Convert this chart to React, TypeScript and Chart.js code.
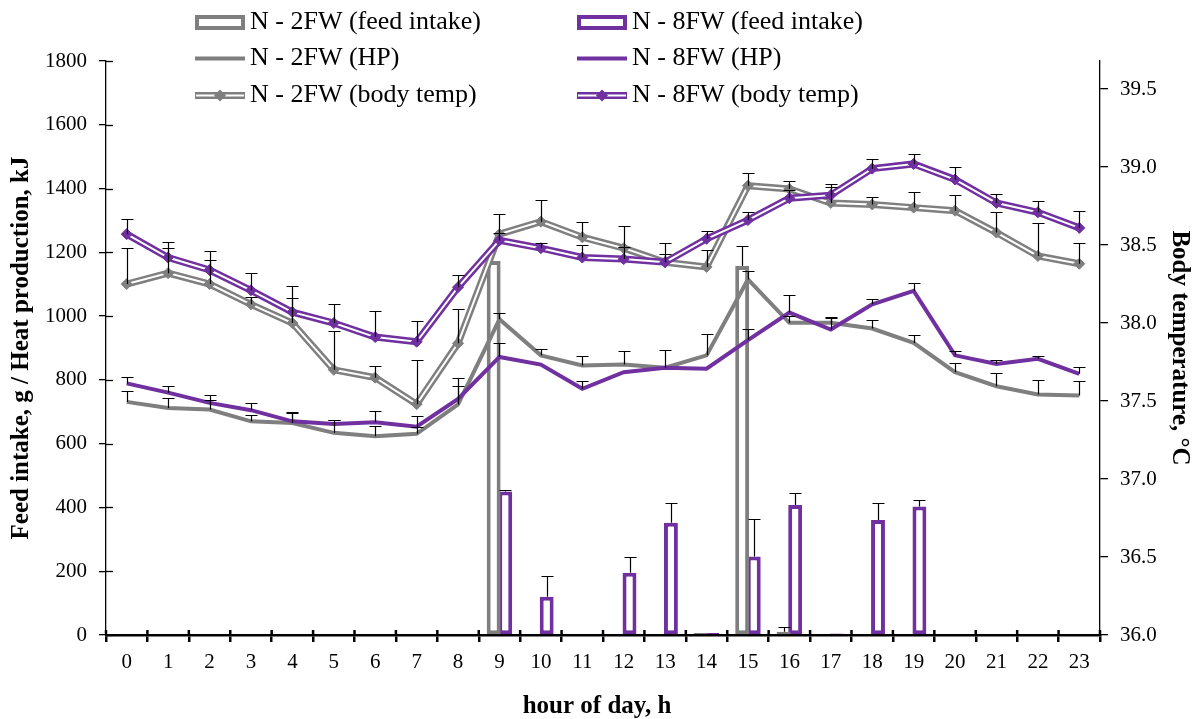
import React, { useEffect, useRef } from 'react';
import { Chart, registerables } from 'chart.js';

Chart.register(...registerables);

const GRAY = '#7f7f7f';
const PURPLE = '#7030a0';
const FONT = "'Times New Roman', 'Liberation Serif', serif";

const hours = ['0','1','2','3','4','5','6','7','8','9','10','11','12','13','14','15','16','17','18','19','20','21','22','23'];

const feed2FW = [0,0,0,0,0,0,0,0,0,1173,0,0,0,0,6,1157,10,0,0,0,0,0,0,0];
const feed2FWErr = [0,0,0,0,0,0,0,0,0,0,0,0,0,0,0,63,15,0,0,0,0,0,0,0];
const feed8FW = [0,0,0,0,0,0,0,0,0,450,120,0,195,352,6,246,408,5,361,403,0,0,0,0];
const feed8FWErr = [0,0,0,0,0,0,0,0,0,5,65,0,50,62,0,118,38,0,53,20,0,0,0,0];

const hp2FW = [731,712,707,670,665,634,623,631,723,990,877,845,848,838,877,1115,979,979,961,916,824,780,754,751];
const hp2FWErr = [33,30,30,20,30,40,31,20,57,20,21,29,42,57,66,26,20,15,28,26,29,42,47,45];
const hp8FW = [789,760,728,705,670,662,667,653,740,872,848,772,824,838,835,925,1011,958,1037,1079,877,850,866,819];
const hp8FWErr = [21,20,26,23,30,11,35,33,66,44,0,24,0,0,0,35,55,40,16,24,14,13,10,21];

const bt2FW = [38.25,38.32,38.25,38.12,38.00,37.70,37.65,37.48,37.87,38.57,38.65,38.55,38.48,38.39,38.36,38.88,38.86,38.77,38.76,38.74,38.72,38.58,38.43,38.38];
const bt2FWErr = [0.23,0.16,0.155,0.05,0.16,0.25,0.075,0.28,0.22,0.13,0.14,0.1,0.14,0.12,0.11,0.08,0.05,0.12,0.05,0.1,0.1,0.13,0.21,0.13];
const bt8FW = [38.57,38.42,38.34,38.21,38.07,38.00,37.91,37.88,38.23,38.53,38.48,38.42,38.41,38.39,38.54,38.66,38.80,38.82,38.99,39.02,38.92,38.77,38.71,38.61];
const bt8FWErr = [0.1,0.1,0.125,0.11,0.165,0.12,0.17,0.13,0.08,0.05,0.03,0.08,0.08,0.05,0.05,0.05,0.05,0.05,0.06,0.065,0.08,0.06,0.075,0.11];

const leftTicks = { min: 0, max: 1800, step: 200 };
const rightTicks = { min: 36, max: 39.68, step: 0.5 };

const legendLabels = [
  'N - 2FW (feed intake)', 'N - 8FW (feed intake)',
  'N - 2FW (HP)', 'N - 8FW (HP)',
  'N - 2FW (body temp)', 'N - 8FW (body temp)',
];
const legendKinds = ['bar', 'bar', 'line', 'line', 'temp', 'temp'];
const legendColors = [GRAY, PURPLE, GRAY, PURPLE, GRAY, PURPLE];

const leftTitle = 'Feed intake, g / Heat production, kJ';
const rightTitle = 'Body temperature, °C';
const xTitle = 'hour of day, h';

const errorBarPlugin = {
  id: 'errorBars',
  afterDatasetsDraw(chart: any) {
    const ctx = chart.ctx;
    ctx.save();
    ctx.strokeStyle = '#000';
    ctx.lineWidth = 1.2;
    chart.data.datasets.forEach((ds: any, i: number) => {
      if (!ds.errors) return;
      const meta = chart.getDatasetMeta(i);
      const yScale = chart.scales[ds.yAxisID];
      meta.data.forEach((el: any, j: number) => {
        const err = ds.errors[j];
        const v = ds.data[j];
        if (!err || v == null) return;
        const x = Math.round(el.x) + 0.5;
        const y0 = yScale.getPixelForValue(v);
        const y1 = Math.round(yScale.getPixelForValue(v + err)) + 0.5;
        ctx.beginPath();
        ctx.moveTo(x, y0);
        ctx.lineTo(x, y1);
        ctx.moveTo(x - 6, y1);
        ctx.lineTo(x + 6, y1);
        ctx.stroke();
      });
    });
    ctx.restore();
  },
};

const decorPlugin = {
  id: 'decor',
  afterDraw(chart: any) {
    const ctx = chart.ctx;
    const xs = chart.scales.x;
    const yl = chart.scales.y;
    ctx.save();
    // inner tick marks (ticks crossing the axes)
    ctx.strokeStyle = '#000';
    ctx.lineWidth = 1.3;
    yl.ticks.forEach((t: any) => {
      const y = Math.round(yl.getPixelForValue(t.value)) + 0.5;
      ctx.beginPath();
      ctx.moveTo(yl.right, y);
      ctx.lineTo(yl.right + 7, y);
      ctx.stroke();
    });
    ctx.lineWidth = 2.5;
    const n = xs.ticks.length;
    for (let i = 0; i <= n; i++) {
      const x = xs.left + (i * (xs.right - xs.left)) / n;
      ctx.beginPath();
      ctx.moveTo(x, xs.top);
      ctx.lineTo(x, xs.top - 5);
      ctx.stroke();
    }

    // legend
    const colX = [195, 577];
    const rowY = [22.5, 58.5, 95.5];
    legendLabels.forEach((label, k) => {
      const cx = colX[k % 2];
      const cy = rowY[Math.floor(k / 2)];
      const color = legendColors[k];
      const kind = legendKinds[k];
      ctx.strokeStyle = color;
      if (kind === 'bar') {
        ctx.lineWidth = 4;
        ctx.fillStyle = '#fff';
        ctx.fillRect(cx + 2, cy - 5.5, 46, 11);
        ctx.strokeRect(cx + 2, cy - 5.5, 46, 11);
      } else if (kind === 'line') {
        ctx.lineWidth = 4;
        ctx.beginPath();
        ctx.moveTo(cx, cy);
        ctx.lineTo(cx + 50, cy);
        ctx.stroke();
      } else {
        ctx.lineWidth = 7;
        ctx.beginPath();
        ctx.moveTo(cx, cy);
        ctx.lineTo(cx + 50, cy);
        ctx.stroke();
        ctx.strokeStyle = '#fff';
        ctx.lineWidth = 2;
        ctx.beginPath();
        ctx.moveTo(cx + 1, cy);
        ctx.lineTo(cx + 49, cy);
        ctx.stroke();
        ctx.fillStyle = color;
        ctx.beginPath();
        ctx.moveTo(cx + 25, cy - 6);
        ctx.lineTo(cx + 31, cy);
        ctx.lineTo(cx + 25, cy + 6);
        ctx.lineTo(cx + 19, cy);
        ctx.closePath();
        ctx.fill();
      }
      ctx.fillStyle = '#000';
      ctx.font = `26px ${FONT}`;
      ctx.textAlign = 'left';
      ctx.textBaseline = 'middle';
      ctx.fillText(label, cx + 55, cy);
    });

    // axis titles
    ctx.fillStyle = '#000';
    ctx.font = `bold 25px ${FONT}`;
    ctx.textAlign = 'center';
    ctx.textBaseline = 'alphabetic';
    ctx.save();
    ctx.translate(28, (yl.top + yl.bottom) / 2);
    ctx.rotate(-Math.PI / 2);
    ctx.fillText(leftTitle, 0, 0);
    ctx.restore();

    ctx.save();
    ctx.translate(1173, (yl.top + yl.bottom) / 2);
    ctx.rotate(Math.PI / 2);
    ctx.fillText(rightTitle, 0, 0);
    ctx.restore();

    ctx.fillText(xTitle, 597, 713);
    ctx.restore();
  },
};

export default function App() {
  const ref = useRef<HTMLCanvasElement>(null);
  useEffect(() => {
    const tickFont = { family: FONT, size: 21 };
    const chart = new Chart(ref.current as HTMLCanvasElement, {
      type: 'bar',
      data: {
        labels: hours,
        datasets: [
          {
            type: 'bar', label: legendLabels[0], data: feed2FW, errors: feed2FWErr,
            yAxisID: 'y', backgroundColor: '#fff', borderColor: GRAY, borderWidth: 4,
            borderSkipped: false, categoryPercentage: 0.56, barPercentage: 1.2, order: 10,
          } as any,
          {
            type: 'bar', label: legendLabels[1], data: feed8FW, errors: feed8FWErr,
            yAxisID: 'y', backgroundColor: '#fff', borderColor: PURPLE, borderWidth: 4,
            borderSkipped: false, categoryPercentage: 0.56, barPercentage: 1.2, order: 10,
          } as any,
          {
            type: 'line', label: legendLabels[2], data: hp2FW, errors: hp2FWErr,
            yAxisID: 'y', borderColor: GRAY, borderWidth: 4, pointRadius: 0, tension: 0, order: 6,
          } as any,
          {
            type: 'line', label: legendLabels[3], data: hp8FW, errors: hp8FWErr,
            yAxisID: 'y', borderColor: PURPLE, borderWidth: 4, pointRadius: 0, tension: 0, order: 5,
          } as any,
          {
            type: 'line', label: legendLabels[4] + ' outline', data: bt2FW,
            yAxisID: 'y1', borderColor: GRAY, borderWidth: 7, pointRadius: 0, tension: 0, order: 4,
          } as any,
          {
            type: 'line', label: legendLabels[4], data: bt2FW, errors: bt2FWErr,
            yAxisID: 'y1', borderColor: '#fff', borderWidth: 2, tension: 0, order: 3,
            pointStyle: 'rectRot', pointRadius: 5.5, pointBackgroundColor: GRAY, pointBorderColor: GRAY, pointBorderWidth: 1,
          } as any,
          {
            type: 'line', label: legendLabels[5] + ' outline', data: bt8FW,
            yAxisID: 'y1', borderColor: PURPLE, borderWidth: 7, pointRadius: 0, tension: 0, order: 2,
          } as any,
          {
            type: 'line', label: legendLabels[5], data: bt8FW, errors: bt8FWErr,
            yAxisID: 'y1', borderColor: '#fff', borderWidth: 2, tension: 0, order: 1,
            pointStyle: 'rectRot', pointRadius: 5.5, pointBackgroundColor: PURPLE, pointBorderColor: PURPLE, pointBorderWidth: 1,
          } as any,
        ],
      },
      options: {
        responsive: false,
        animation: false,
        devicePixelRatio: 1,
        layout: { padding: { top: 61, left: 0, right: 0, bottom: 0 } },
        plugins: { legend: { display: false }, tooltip: { enabled: false }, title: { display: false } },
        scales: {
          x: {
            type: 'category',
            offset: true,
            grid: { offset: true, drawOnChartArea: false, tickLength: 7, color: '#000', lineWidth: 2.5 },
            border: { color: '#000', width: 2.5 },
            ticks: { font: tickFont, color: '#000', padding: 8, maxRotation: 0, autoSkip: false },
            afterFit: (s: any) => { s.height = 84; },
          },
          y: {
            position: 'left',
            min: leftTicks.min, max: leftTicks.max,
            grid: { drawOnChartArea: false, tickLength: 7, color: '#000', lineWidth: 1.3 },
            border: { color: '#000', width: 1.3 },
            ticks: {
              stepSize: leftTicks.step, font: tickFont, color: '#000', padding: 12,
              callback: (v: any) => String(Math.round(Number(v))),
            },
            afterFit: (s: any) => { s.width = 106; },
          },
          y1: {
            position: 'right',
            min: rightTicks.min, max: rightTicks.max,
            grid: { drawOnChartArea: false, tickLength: 8, color: '#000', lineWidth: 1.3 },
            border: { color: '#000', width: 1.3 },
            ticks: {
              stepSize: rightTicks.step, font: tickFont, color: '#000', padding: 12,
              callback: (v: any) => Number(v).toFixed(1),
            },
            afterBuildTicks: (axis: any) => {
              axis.ticks = axis.ticks.filter((t: any) => Math.abs(t.value * 2 - Math.round(t.value * 2)) < 1e-6);
            },
            afterFit: (s: any) => { s.width = 101; },
          },
        },
      } as any,
      plugins: [errorBarPlugin, decorPlugin],
    });
    return () => chart.destroy();
  }, []);
  return (
    <div style={{ position: 'fixed', left: 0, top: 0, width: 1201, height: 719, background: '#fff' }}>
      <canvas ref={ref} width={1201} height={719} style={{ display: 'block' }} />
    </div>
  );
}
